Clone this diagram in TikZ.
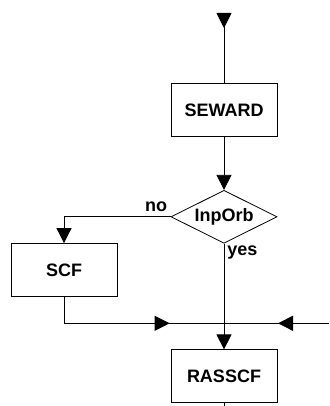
\documentclass[tikz,border=0pt]{standalone}
\usepackage{fontspec}
\setmainfont{Liberation Sans}
\usepackage{tikz}
\usetikzlibrary{arrows.meta,positioning,calc,shapes.geometric,decorations.markings}

\begin{document}
\begin{tikzpicture}[x=1pt, y=1pt, line width=0.8pt,
 every node/.style={font=\fontsize{18}{21}\selectfont\bfseries, align=center},
 prog/.style={draw, rectangle, minimum width=106pt, minimum height=53pt, inner sep=0pt},
 test/.style={draw, diamond, aspect=2, minimum width=106pt, minimum height=53pt, inner sep=0pt},
 lbl/.style={inner sep=0pt},
 tri/.style={-{Triangle[length=15pt,width=15pt]}},
 tipat/.style={postaction={decorate}, decoration={markings, mark=at position #1 with {\arrow{Triangle[length=15pt,width=15pt]}}}}]
\useasboundingbox (0,0) rectangle (329,-406);
\node[prog] (seward) at (224,-110) {SEWARD};
\node[test, below=53pt of seward] (inporb) {InpOrb};
\node[prog] (scf) at (64,-270) {SCF};
\node[prog] (rasscf) at (224,-376.3) {RASSCF};
\coordinate (in) at (224,-14);
\coordinate (join) at (224,-323.3);
\coordinate (east) at (329,-323.3);
\coordinate (out) at (224,-406);
\draw[tipat=14pt] (in)--(seward.north);
\draw[tri] (seward)--(inporb);
\draw[tri] (inporb.west) -| (scf.north);
\draw[tri] (inporb.south)--(rasscf.north);
\draw[tipat=132pt] (scf.south) |- (join);
\draw[tipat=51pt] (east)--(join);
\draw (rasscf.south)--(out);
\node[lbl, anchor=base east] at ($(inporb.west)+(-3,5)$) {no};
\node[lbl, anchor=north west] at ($(inporb.south)+(3,-2)$) {yes};
\end{tikzpicture}
\end{document}
